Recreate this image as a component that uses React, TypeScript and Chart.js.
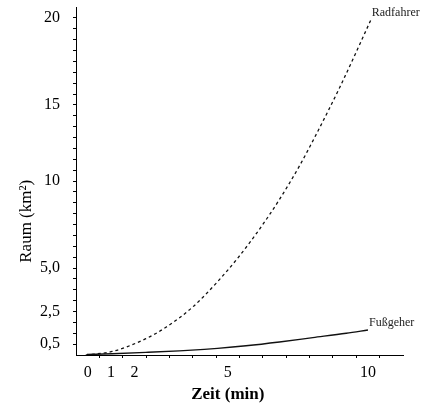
import React, { useEffect, useRef } from 'react';
import { Chart, registerables } from 'chart.js';

Chart.register(...registerables);

// Axis units are the scale divisions of the drawing (x: 14 divisions, y: 32 divisions)
const xLabelPositions = [0.5, 1.5, 2.5, 6.5, 12.5];
const xLabels = ['0', '1', '2', '5', '10'];
const yLabelPositions = [1, 4, 8, 16, 23, 31];
const yLabels = ['0,5', '2,5', '5,0', '10', '15', '20'];

const xTitle = 'Zeit (min)';
const yTitle = 'Raum (km²)';

const radfahrerX = [0.42, 1.56, 2.99, 3.85, 4.99, 6.06, 6.92, 7.85, 8.71, 9.57, 10.36, 11.29, 12.07, 12.62];
const radfahrerY = [0.0, 0.33, 1.5, 2.55, 4.4, 6.74, 8.9, 11.55, 14.3, 17.4, 20.6, 24.6, 28.2, 30.8];

const fussgeherX = [0.47, 1.55, 2.99, 4.42, 5.49, 6.06, 7.28, 8.71, 10.14, 11.57, 12.5];
const fussgeherY = [0.05, 0.12, 0.24, 0.38, 0.52, 0.61, 0.85, 1.2, 1.6, 2.0, 2.3];

const seriesNames = ['Radfahrer', 'Fußgeher'];

const serif = '"Liberation Serif", "Times New Roman", serif';

const endLabelPlugin = {
  id: 'endLabels',
  afterDatasetsDraw(chart: any) {
    const ctx = chart.ctx;
    ctx.save();
    chart.data.datasets.forEach((ds: any, i: number) => {
      const meta = chart.getDatasetMeta(i);
      const last = meta.data[meta.data.length - 1];
      if (!last) return;
      ctx.font = `12px ${serif}`;
      ctx.fillStyle = '#222';
      ctx.textAlign = 'left';
      ctx.textBaseline = 'middle';
      ctx.fillText(ds.label, last.x + 1, last.y - 7);
    });
    const xs = chart.scales.x;
    const ys = chart.scales.y;
    ctx.fillStyle = '#000';
    ctx.textAlign = 'center';
    ctx.textBaseline = 'middle';
    ctx.font = `bold 17px ${serif}`;
    ctx.fillText(xTitle, xs.getPixelForValue(6.5), xs.bottom - 16);
    ctx.translate(ys.left + 27, ys.getPixelForValue(12.3));
    ctx.rotate(-Math.PI / 2);
    ctx.font = `17px ${serif}`;
    ctx.fillText(yTitle, 0, 0);
    ctx.restore();
  },
};

export default function App() {
  const ref = useRef<HTMLCanvasElement>(null);

  useEffect(() => {
    document.body.style.margin = '0';
    if (!ref.current) return;
    const tickColor = (c: any) =>
      c.tick && Number.isInteger(c.tick.value) ? '#000' : 'rgba(0,0,0,0)';
    const chart = new Chart(ref.current, {
      type: 'line',
      data: {
        datasets: [
          {
            label: seriesNames[0],
            data: radfahrerX.map((x, i) => ({ x, y: radfahrerY[i] })),
            borderColor: '#111',
            borderWidth: 1.3,
            borderDash: [3, 3],
            pointRadius: 0,
            cubicInterpolationMode: 'monotone',
            fill: false,
          },
          {
            label: seriesNames[1],
            data: fussgeherX.map((x, i) => ({ x, y: fussgeherY[i] })),
            borderColor: '#111',
            borderWidth: 1.4,
            pointRadius: 0,
            cubicInterpolationMode: 'monotone',
            fill: false,
          },
        ],
      },
      options: {
        animation: false,
        responsive: false,
        layout: { padding: { top: 7, right: 20, left: 0, bottom: 0 } },
        plugins: { legend: { display: false }, tooltip: { enabled: false } },
        scales: {
          x: {
            type: 'linear',
            min: 0,
            max: 14,
            afterBuildTicks: (s: any) => {
              const vals: number[] = [];
              for (let i = 1; i <= 13; i++) vals.push(i);
              xLabelPositions.forEach((v) => vals.push(v));
              vals.sort((a, b) => a - b);
              s.ticks = vals.map((value) => ({ value }));
            },
            afterFit: (s: any) => {
              s.height = 56;
              s.paddingLeft = 0;
              s.paddingRight = 0;
            },
            ticks: {
              autoSkip: false,
              maxRotation: 0,
              padding: 5,
              color: '#000',
              font: { family: serif, size: 16 },
              callback: (v: any) => {
                const i = xLabelPositions.indexOf(Number(v));
                return i >= 0 ? xLabels[i] : '';
              },
            },
            grid: {
              drawOnChartArea: false,
              drawTicks: true,
              tickLength: 3,
              color: tickColor,
              tickColor: tickColor,
              tickWidth: 1,
            },
            border: { display: true, color: '#000', width: 1 },
          },
          y: {
            type: 'linear',
            min: 0,
            max: 32,
            afterBuildTicks: (s: any) => {
              const vals: number[] = [];
              for (let i = 1; i <= 31; i++) vals.push(i);
              s.ticks = vals.map((value) => ({ value }));
            },
            afterFit: (s: any) => {
              s.width = 76;
              s.paddingTop = 0;
              s.paddingBottom = 0;
            },
            ticks: {
              autoSkip: false,
              padding: 13,
              color: '#000',
              font: { family: serif, size: 16 },
              callback: (v: any) => {
                const i = yLabelPositions.indexOf(Number(v));
                return i >= 0 ? yLabels[i] : '';
              },
            },
            grid: {
              drawOnChartArea: false,
              drawTicks: true,
              tickLength: 3,
              color: '#000',
              tickColor: '#000',
              tickWidth: 1,
            },
            border: { display: true, color: '#000', width: 1 },
          },
        },
      },
      plugins: [endLabelPlugin],
    } as any);
    return () => chart.destroy();
  }, []);

  return (
    <div style={{ width: 423, height: 411 }}>
      <canvas ref={ref} width={423} height={411} style={{ display: 'block' }} />
    </div>
  );
}
